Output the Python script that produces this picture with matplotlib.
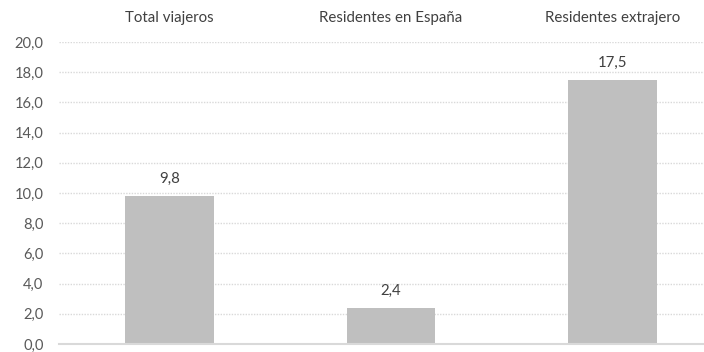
import matplotlib
matplotlib.use("Agg")
import matplotlib.pyplot as plt

categories = ["Total viajeros", "Residentes en España", "Residentes extrajero"]
values = [9.8, 2.4, 17.5]
yticks = [0, 2, 4, 6, 8, 10, 12, 14, 16, 18, 20]

plt.rcParams['font.family'] = ['Lato', 'DejaVu Sans']
fig = plt.figure(figsize=(7.04, 3.52), dpi=100)
ax = fig.add_axes([59/704, 8/352, (704-59)/704, 302/352])

x = list(range(len(categories)))
bars = ax.bar(x, values, width=0.4, color="#BFBFBF", zorder=2)
ax.set_xlim(-0.5, 2.5 - 19/221.5)
ax.set_ylim(0, 20)
ax.set_yticks(yticks)
ax.set_yticklabels([f"{v:.1f}".replace(".", ",") for v in yticks], color="#595959", fontsize=10.6)
ax.yaxis.grid(True, linestyle=(0, (1, 1)), color="#D9D9D9", linewidth=1, zorder=0)
ax.tick_params(axis='y', length=0, pad=11)
ax.xaxis.tick_top()
ax.set_xticks(x)
ax.set_xticklabels(categories, color="#404040", fontsize=10.8)
ax.tick_params(axis='x', length=0, pad=12)
for s in ["top", "right", "left"]:
    ax.spines[s].set_visible(False)
ax.spines["bottom"].set_color("#D9D9D9")
ax.spines["bottom"].set_linewidth(1.5)
for xi, v in zip(x, values):
    ax.annotate(f"{v:.1f}".replace(".", ","), (xi, v), xytext=(0, 7), textcoords="offset points",
                ha="center", va="bottom", color="#404040", fontsize=10.8)
fig.savefig("out.png", dpi=100)
